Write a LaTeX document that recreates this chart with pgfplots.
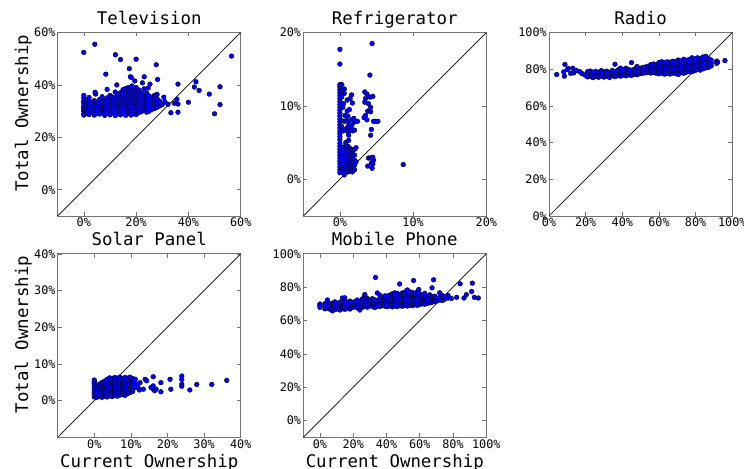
\documentclass[border=0pt]{standalone}
\usepackage{pgfplots}
\pgfplotsset{compat=1.18}
\usepackage{fontspec}
\setmainfont{DejaVu Sans Mono}
\definecolor{framec}{gray}{0.45}
\pgfplotsset{
  myax/.style={
    scale only axis, width=183bp, height=183.5bp, anchor=south west,
    axis line style={draw=framec, line width=0.8bp},
    every tick/.style={draw=framec, line width=0.6bp},
    tick align=inside, major tick length=4bp,
    xtick pos=both, ytick pos=both,
    /pgf/number format/assume math mode=true,
    ticklabel style={font=\fontsize{11.8bp}{14bp}\selectfont, inner sep=2bp},
    xticklabel={\pgfmathprintnumber[fixed,precision=0]{\tick}\%},
    yticklabel={\pgfmathprintnumber[fixed,precision=0]{\tick}\%},
    title style={at={(axis description cs:0.5,1)}, anchor=base, yshift=2.5bp, inner sep=0pt, font=\fontsize{17.4bp}{20bp}\selectfont},
    xlabel style={at={(axis description cs:0.5,-0.1635)}, anchor=base, inner sep=0pt, font=\fontsize{17.4bp}{20bp}\selectfont},
    ylabel style={at={(axis description cs:-0.1623,0.56)}, anchor=base, inner sep=0pt, font=\fontsize{17.4bp}{20bp}\selectfont},
  },
  pts/.style={only marks, mark=*, mark size=2.4bp, mark options={fill=blue, draw=black, line width=0.35bp}},
  diag/.style={black, line width=0.7bp, no marks},
}
\begin{document}
\begin{tikzpicture}
\useasboundingbox (0,0) rectangle (744bp,469bp);
% Television
\begin{axis}[myax, at={(57.7bp,253bp)}, xmin=-10, xmax=60, ymin=-10, ymax=60,
  xtick={0,20,40,60}, ytick={0,20,40,60}, title={Television}, ylabel={Total Ownership}]
\addplot[pts] coordinates {
(0,28.5)(0,29)(0,30)(0,30.5)(0,31)(0,31.5)(0,32)(0,33)(0,33.5)(0,34)(0,35)(0,36)
(1,29.2)(1,30.6)(1,31.8)(1,33.1)(1,34.2)
(2,28.7)(2,30.1)(2,31.4)(2,32.6)(2,33.9)(2,35.2)
(3,29.5)(3,30.8)(3,32.2)(3,33.4)
(4,28.5)(4,30.2)(4,31.5)(4,32.8)(4,34.0)(4.5,36.5)(4.3,37.2)
(5,29.3)(5,30.7)(5,32.1)(5,33.3)
(6,28.9)(6,30.4)(6,31.7)(6,33.0)(6,34.4)
(7,29.6)(7,31.0)(7,32.4)(7,33.7)(7,35.5)
(8,28.4)(8,30.0)(8,31.3)(8,32.7)(8,34.1)(8.9,38.3)
(9,29.1)(9,30.6)(9,32.0)(9,33.5)(9,35.1)
(10,28.6)(10,30.3)(10,31.6)(10,32.9)(10,34.3)(10,36.0)
(11,29.4)(11,30.9)(11,32.3)(11,33.6)(11,35.4)
(12,28.3)(12,29.8)(12,31.2)(12,32.5)(12,33.9)(12,35.0)(12,37.3)
(13,29.0)(13,30.5)(13,31.9)(13,33.2)(13,34.6)(13,36.2)
(14,28.6)(14,30.1)(14,31.4)(14,32.8)(14,34.1)(14,35.6)(14,37.0)
(15,29.3)(15,30.7)(15,32.1)(15,33.4)(15,34.9)(15,36.5)(15,38.2)
(16,28.4)(16,29.9)(16,31.3)(16,32.6)(16,34.0)(16,35.3)(16,36.8)(16,38.6)
(17,29.1)(17,30.4)(17,31.8)(17,33.1)(17,34.5)(17,36.0)(17,37.5)(17,39.0)
(18,28.5)(18,30.0)(18,31.5)(18,32.9)(18,34.2)(18,35.7)(18,37.2)(18,38.7)
(19,29.0)(19,30.6)(19,32.0)(19,33.4)(19,34.8)(19,36.3)(19,37.8)
(20,28.7)(20,30.2)(20,31.6)(20,33.0)(20,34.4)(20,35.9)(20,37.4)(20,39.0)
(21,29.4)(21,30.9)(21,32.3)(21,33.7)(21,35.1)(21,36.6)(21,38.1)
(22,29.8)(22,31.2)(22,32.7)(22,34.0)(22,35.5)(22,37.0)
(23,30.3)(23,31.7)(23,33.1)(23,34.6)(23,36.1)(23,38.5)
(24,29.6)(24,31.0)(24,32.5)(24,33.9)(24,35.4)(24,36.9)
(25,30.0)(25,31.5)(25,33.0)(25,34.4)(25,35.8)
(26,30.7)(26,32.2)(26,33.6)(26,35.2)
(27,31.0)(27,32.8)(27,34.2)(27,36.0)
(28,31.5)(28,33.3)(28,34.8)
(29,32.0)(29,33.8)(30.6,35.3)(30,32.5)(31,33.6)(32.2,32.6)
(0,52.4)(4.2,55.5)(12.1,51.5)(14,49.7)(20,49.8)(17.4,46.2)(27.7,47.7)(8.4,44.1)(17.8,43.1)(18.2,42.8)
(23.1,43.1)(28.2,42.1)(12.6,40)(22.4,40.8)(25.3,40.3)(24.6,38.8)(18.4,39.6)(28,36.4)(19.5,41.5)
(36,40.3)(42.9,41.2)(42.3,39.2)(44.1,37.9)(52.1,39.3)(48,36.5)(56.5,51)(40,33.4)(52.1,32.5)(50,29)
(36,32.7)(36,29.6)(33.3,29.4)(34.6,33)(35.6,34.5)
};
\addplot[diag] coordinates {(-10,-10) (60,60)};
\end{axis}
% Refrigerator
\begin{axis}[myax, at={(303.3bp,253bp)}, xmin=-5, xmax=20, ymin=-5, ymax=20,
  xtick={0,10,20}, ytick={0,10,20}, title={Refrigerator}]
\addplot[pts] coordinates {
(0,0.9)(0,1.3)(0,1.7)(0,2.1)(0,2.5)(0,2.9)(0,3.3)(0,3.7)(0,4.1)(0,4.5)(0,4.9)(0,5.4)(0,5.8)(0,6.2)(0,6.6)
(0,7.0)(0,7.4)(0,7.8)(0,8.2)(0,8.6)(0,9.0)(0,9.4)(0,9.8)(0,10.2)(0,10.6)(0,11.0)(0,11.4)(0,11.8)(0,12.2)(0,12.6)(0,12.9)
(0,15.7)(0,17.7)
(0.25,1.1)(0.25,2.0)(0.25,3.0)(0.25,4.0)(0.25,7.2)(0.25,8.0)(0.25,10.0)(0.25,11.2)(0.25,12.9)(0.3,12.1)
(0.5,1.0)(0.5,1.5)(0.5,2.0)(0.5,2.5)(0.5,3.0)(0.5,3.5)(0.5,4.0)(0.5,4.4)
(0.8,1.2)(0.8,1.7)(0.8,2.2)(0.8,2.7)(0.8,3.2)(0.8,3.7)(0.8,4.2)
(1.1,1.0)(1.1,1.5)(1.1,2.0)(1.1,2.5)(1.1,3.0)(1.1,3.5)(1.1,4.0)(1.1,4.5)
(1.4,1.2)(1.4,1.7)(1.4,2.2)(1.4,2.7)(1.4,3.2)(1.4,3.7)(1.4,4.2)
(1.7,1.0)(1.7,1.5)(1.7,2.0)(1.7,2.5)(1.7,3.0)(1.7,3.5)(1.7,4.0)
(2.0,1.3)(2.0,1.9)(2.0,2.6)(2.0,3.3)(2.0,4.1)(2.2,4.3)(2.2,2.4)(0.6,0.6)
(0.5,6.6)(0.8,6.8)(1.1,6.5)(1.4,6.7)(1.7,6.6)(2.0,6.7)(0.6,7.9)(0.9,8.0)(1.2,7.8)(1.6,8.1)(1.9,8.3)(2.0,7.8)(2.4,7.9)
(0.7,8.7)(1.1,8.6)(1.0,9.3)(1.3,9.5)(0.5,10.3)(1.0,10.8)(1.4,11.0)(1.6,11.5)(1.7,10.4)(0.6,11.7)(0.8,5.0)(1.2,5.3)
(1.2,6.0)(1.5,6.8)(0.6,12.3)(0.4,9.8)(1.1,7.2)(1.6,7.3)
(3.4,11.9)(3.7,11.6)(4.1,11.2)(4.5,11.3)(3.5,11.0)(3.9,10.3)(3.4,10.5)(4.2,9.8)(3.8,9.3)(3.5,8.7)(3.3,8.4)(3.7,8.1)
(4.2,9.2)(4.6,7.9)(4.9,7.9)(5.2,7.9)(4.3,6.8)(4.2,6.0)(4.1,14.2)(4.4,18.5)(3.9,2.9)(4.2,2.9)(4.5,3.0)(4.6,2.6)
(4.3,2.2)(4.5,2.1)(3.8,1.8)(4.4,1.5)(8.65,2.0)
};
\addplot[diag] coordinates {(-5,-5) (20,20)};
\end{axis}
% Radio
\begin{axis}[myax, width=183.3bp, at={(549bp,253bp)}, xmin=0, xmax=100, ymin=0, ymax=100,
  xtick={0,20,...,100}, ytick={0,20,...,100}, title={Radio}]
\addplot[pts] coordinates {
(4.2,77.1)(8.7,82.6)(8.4,76.2)(10.5,80.4)(11.8,77.7)(8,78.5)(13,80.5)(13.5,78)(15,79.3)(16.9,78.6)(18,77.6)(19.5,76.8)(10,79.8)
(21,75.8)(21,77.4)(21,78.6)(22.5,76.2)(22.5,77.6)(22.5,79.0)(24,75.4)(24,77.0)(24,78.4)(25.5,76.0)(25.5,77.3)(25.5,78.8)
(27,75.6)(27,76.9)(27,78.3)(28.5,76.3)(28.5,77.7)(28.5,79.2)(30,75.7)(30,77.1)(30,78.5)(31.5,76.1)(31.5,77.5)(31.5,78.9)
(33,75.5)(33,76.8)(33,78.2)(34.5,76.4)(34.5,77.8)(34.5,79.3)(36,75.9)(36,77.3)(36,78.7)(36,82.7)
(37.5,76.5)(37.5,77.9)(37.5,79.5)(39,76.2)(39,77.6)(39,79.0)(39,80.6)(40.5,76.7)(40.5,78.1)(40.5,79.6)
(42,76.4)(42,77.8)(42,79.2)(42,80.5)(43.5,76.9)(43.5,78.3)(43.5,79.8)(45,76.6)(45,78.0)(45,79.4)(45,83.6)
(46.5,77.2)(46.5,78.6)(46.5,80.0)(48,77.0)(48,78.5)(48,80.2)(48,81.5)(49.5,77.5)(49.5,79.0)(49.5,80.5)
(51,77.8)(51,79.3)(51,80.9)(52.5,78.0)(52.5,79.6)(52.5,81.2)(54,78.3)(54,79.9)(54,81.6)
(55.5,77.9)(55.5,79.5)(55.5,81.0)(55.5,82.5)(57,78.2)(57,79.8)(57,81.3)(57,82.8)(58.5,77.8)(58.5,79.4)(58.5,81.0)(58.5,82.6)
(60,77.5)(60,79.0)(60,80.6)(60,82.2)(60,83.6)(61.5,77.9)(61.5,79.5)(61.5,81.1)(61.5,82.7)(61.5,84.1)
(63,77.3)(63,78.9)(63,80.5)(63,82.1)(63,83.7)(64.5,77.7)(64.5,79.3)(64.5,80.9)(64.5,82.5)(64.5,84.0)
(66,77.4)(66,79.0)(66,80.6)(66,82.2)(66,83.8)(67.5,77.9)(67.5,79.5)(67.5,81.1)(67.5,82.7)(67.5,84.3)
(69,77.6)(69,79.2)(69,80.8)(69,82.4)(69,84.0)(70.5,77.1)(70.5,78.7)(70.5,80.3)(70.5,81.9)(70.5,83.5)(70.5,85.0)
(72,78.1)(72,79.7)(72,81.3)(72,82.9)(72,84.5)(73.5,77.8)(73.5,79.4)(73.5,81.0)(73.5,82.6)(73.5,84.2)(73.5,85.4)
(75,78.4)(75,80.0)(75,81.6)(75,83.2)(75,84.8)(76.5,78.9)(76.5,80.5)(76.5,82.1)(76.5,83.7)(76.5,85.3)
(78,78.6)(78,80.2)(78,81.8)(78,83.4)(78,85.0)(78,86.2)(79.5,79.2)(79.5,80.8)(79.5,82.4)(79.5,84.0)(79.5,85.6)
(81,79.8)(81,81.4)(81,83.0)(81,84.6)(81,86.2)(82.5,79.5)(82.5,81.1)(82.5,82.7)(82.5,84.3)(82.5,85.9)
(84,80.2)(84,81.8)(84,83.4)(84,85.0)(84,86.6)(85.5,80.7)(85.5,82.3)(85.5,83.9)(85.5,85.5)(85.5,87.0)
(87,81.0)(87,82.6)(87,84.2)(87,85.8)(88.5,81.8)(88.5,83.4)(88.5,85.0)(91.5,83.2)(91.5,84.4)(92,83.8)(96,84.7)
};
\addplot[diag] coordinates {(0,0) (100,100)};
\end{axis}
% Solar Panel
\begin{axis}[myax, at={(57.7bp,31.7bp)}, xmin=-10, xmax=40, ymin=-10, ymax=40,
  xtick={0,10,...,40}, ytick={0,10,...,40}, title={Solar Panel}, ylabel={Total Ownership}, xlabel={Current Ownership}]
\addplot[pts] coordinates {
(0,1.0)(0,1.6)(0,2.2)(0,2.8)(0,3.4)(0,4.0)(0,4.6)(0,5.2)(0,5.6)
(0.7,0.9)(0.7,1.6)(0.7,2.3)(0.7,3.0)(0.7,3.7)
(1.4,1.1)(1.4,1.8)(1.4,2.5)(1.4,3.2)(1.4,3.9)(1.4,4.5)
(2.1,0.9)(2.1,1.6)(2.1,2.3)(2.1,3.0)(2.1,3.7)(2.1,4.4)(2.1,4.9)
(2.8,1.2)(2.8,1.9)(2.8,2.6)(2.8,3.3)(2.8,4.0)(2.8,4.7)(2.8,5.3)
(3.5,1.0)(3.5,1.7)(3.5,2.4)(3.5,3.1)(3.5,3.8)(3.5,4.5)(3.5,5.2)(3.5,5.8)
(4.2,1.3)(4.2,2.0)(4.2,2.7)(4.2,3.4)(4.2,4.1)(4.2,4.8)(4.2,5.5)(4.2,6.2)
(4.9,1.1)(4.9,1.8)(4.9,2.5)(4.9,3.2)(4.9,3.9)(4.9,4.6)(4.9,5.3)(4.9,6.0)
(5.6,1.4)(5.6,2.1)(5.6,2.8)(5.6,3.5)(5.6,4.2)(5.6,4.9)(5.6,5.6)(5.6,6.3)
(6.3,1.2)(6.3,1.9)(6.3,2.6)(6.3,3.3)(6.3,4.0)(6.3,4.7)(6.3,5.4)(6.3,6.1)
(7.0,1.5)(7.0,2.2)(7.0,2.9)(7.0,3.6)(7.0,4.3)(7.0,5.0)(7.0,5.7)(7.0,6.4)
(7.7,1.7)(7.7,2.4)(7.7,3.1)(7.7,3.8)(7.7,4.5)(7.7,5.2)(7.7,5.9)
(8.4,1.4)(8.4,2.1)(8.4,2.8)(8.4,3.5)(8.4,4.2)(8.4,4.9)(8.4,5.6)(8.4,6.3)
(9.1,1.9)(9.1,2.6)(9.1,3.3)(9.1,4.0)(9.1,4.7)(9.1,5.4)(9.1,6.1)
(9.8,2.2)(9.8,2.9)(9.8,3.6)(9.8,4.3)(9.8,5.0)(9.8,5.7)(9.8,6.4)
(10.5,2.5)(10.5,3.2)(10.5,3.9)(10.5,4.6)(10.5,5.3)(10.5,6.0)(11.2,3.6)(11.2,4.8)(11.2,5.8)
(12.5,4.9)(13.9,5.8)(14.3,5.4)(12.0,3.5)(13.4,3.1)(16.1,6.5)(16.1,4.0)(16.1,3.1)(16.5,2.7)(16.9,3.1)
(18.2,4.9)(18.2,2.4)(20.7,5.8)(20.9,3.1)(23.9,6.7)(23.9,5.8)(23.9,4.5)(23.9,3.9)(26.1,2.9)(28,4.4)
(32.1,4.4)(36.2,5.5)(11.8,4.2)(12.3,2.9)(15.5,3.6)
};
\addplot[diag] coordinates {(-10,-10) (40,40)};
\end{axis}
% Mobile Phone
\begin{axis}[myax, at={(303.3bp,31.7bp)}, xmin=-10, xmax=100, ymin=-10, ymax=100,
  xtick={0,20,...,100}, ytick={0,20,...,100}, title={Mobile Phone}, xlabel={Current Ownership}]
\addplot[pts] coordinates {
(0,69.9)(0,67.9)(0,69.0)
(3,67.0)(3,68.6)(3,70.1)(4.5,67.5)(4.5,69.1)(4.5,70.6)(4.5,72.3)(6,66.8)(6,68.4)(6,70.0)
(7.5,65.8)(7.5,67.3)(7.5,68.9)(7.5,70.4)(9,66.5)(9,68.1)(9,69.6)(9,71.2)(10.5,67.0)(10.5,68.6)(10.5,70.2)
(12,66.3)(12,67.9)(12,69.4)(12,71.0)(13.5,67.2)(13.5,68.8)(13.5,70.3)(13.5,73.5)
(15,66.7)(15,68.3)(15,69.9)(15,71.5)(15,73.6)(16.5,67.5)(16.5,69.0)(16.5,70.6)
(18,66.9)(18,68.5)(18,70.0)(18,71.6)(19.5,67.8)(19.5,69.3)(19.5,70.9)
(21,68.2)(21,69.8)(21,71.3)(22.5,67.6)(22.5,69.2)(22.5,70.7)(22.5,72.3)
(24,66.3)(24,68.4)(24,70.0)(24,71.5)(25.5,67.9)(25.5,69.5)(25.5,71.0)(25.5,73.0)
(27,68.6)(27,70.2)(27,71.8)(27,74.6)(27,75.6)(28.5,68.0)(28.5,69.6)(28.5,71.2)(28.5,73.2)
(30,68.9)(30,70.5)(30,72.1)(31.5,68.3)(31.5,69.9)(31.5,71.5)(31.5,73.1)
(33,67.8)(33,69.2)(33,70.8)(33,72.4)(33.4,85.8)(34.5,68.7)(34.5,70.3)(34.5,71.9)(34.5,76.5)
(36,68.4)(36,70.0)(36,71.6)(36,73.2)(36,75.2)(37.5,69.0)(37.5,70.6)(37.5,72.2)(37.5,73.8)
(39,68.6)(39,70.2)(39,71.8)(39,73.4)(39,74.8)(40.5,68.3)(40.5,69.9)(40.5,71.5)(40.5,73.1)(40.5,74.7)
(42,68.8)(42,70.4)(42,72.0)(42,73.6)(42,75.2)(43.5,68.2)(43.5,69.8)(43.5,71.4)(43.5,73.0)(43.5,74.6)(43.5,76.0)
(45,68.7)(45,70.3)(45,71.9)(45,73.5)(45,75.1)(45,76.6)(46.5,68.4)(46.5,70.0)(46.5,71.6)(46.5,73.2)(46.5,74.8)(46.5,76.3)
(48,68.9)(48,70.5)(48,72.1)(48,73.7)(48,75.3)(47.9,81.9)(49.5,68.5)(49.5,70.1)(49.5,71.7)(49.5,73.3)(49.5,74.9)(49.5,76.5)
(51,69.0)(51,70.6)(51,72.2)(51,73.8)(51,75.4)(51,77.0)(52.5,68.7)(52.5,70.3)(52.5,71.9)(52.5,73.5)(52.5,75.1)(52.5,76.7)(52.5,78.3)
(54,69.2)(54,70.8)(54,72.4)(54,74.0)(54,75.6)(54,77.2)(55.5,68.9)(55.5,70.5)(55.5,72.1)(55.5,73.7)(55.5,75.3)(55.5,76.9)
(57,69.4)(57,71.0)(57,72.6)(57,74.2)(57,75.8)(56.3,84.0)(58.5,69.1)(58.5,70.7)(58.5,72.3)(58.5,73.9)(58.5,75.5)(58.5,77.2)
(60,69.6)(60,71.2)(60,72.8)(60,74.4)(60,76.0)(59.4,78.6)(61.5,70.0)(61.5,71.6)(61.5,73.2)(61.5,74.8)
(63,69.8)(63,71.4)(63,73.0)(63,74.6)(63,76.3)(64.5,70.3)(64.5,71.9)(64.5,73.5)
(66,70.6)(66,72.2)(66,73.8)(66,75.4)(67.5,71.0)(67.5,72.6)(67.5,74.2)(67.4,79.6)(68.3,84.4)
(69,71.4)(69,73.0)(69,74.6)(70.5,71.8)(70.5,73.4)(72,72.3)(72,73.9)(72,76.6)(73.5,72.0)(73.5,73.6)(73.5,75.0)
(75,72.8)(75,74.3)(77,73.5)(77,75.0)(79,73.2)(82.2,73.9)(84.3,82.0)(86.6,73.5)(88,75.5)
(91.6,82.4)(91.2,77.4)(92.8,73.9)(95.2,73.5)
};
\addplot[diag] coordinates {(-10,-10) (100,100)};
\end{axis}
\end{tikzpicture}
\end{document}
